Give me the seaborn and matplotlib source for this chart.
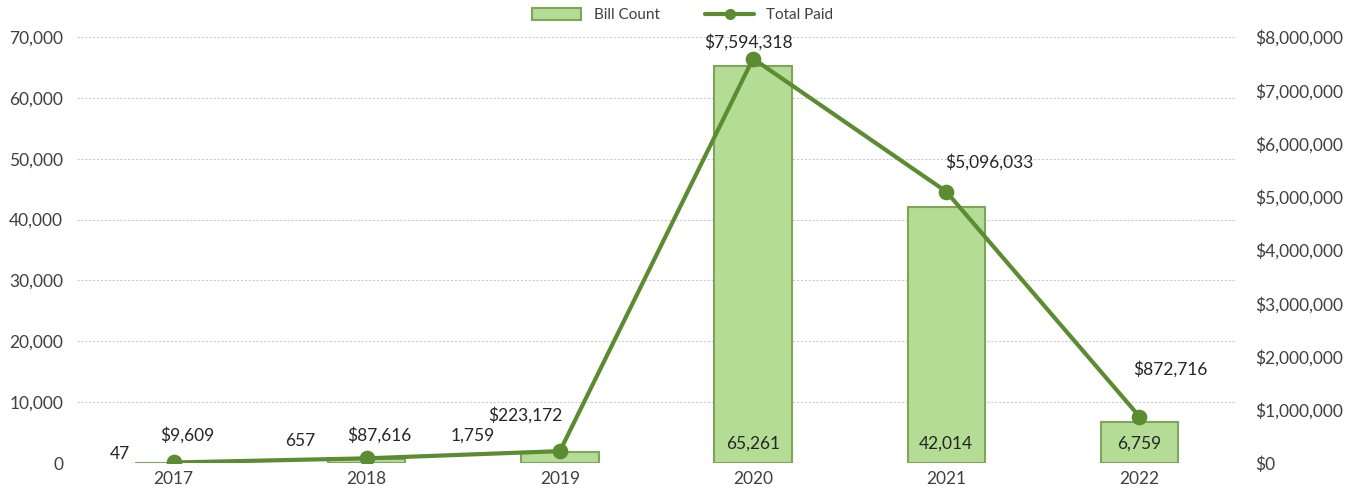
import numpy as np
import pandas as pd
import matplotlib
matplotlib.use('Agg')
import matplotlib.pyplot as plt
import seaborn as sns
from matplotlib.lines import Line2D
from matplotlib.patches import Patch
from matplotlib.ticker import FuncFormatter, MultipleLocator

# Datos
years = ['2017', '2018', '2019', '2020', '2021', '2022']
bill_count = [47, 657, 1759, 65261, 42014, 6759]
total_paid = [9609, 87616, 223172, 7594318, 5096033, 872716]

# desplazamiento de etiquetas (puntos)
count_offsets = [(-39, 6), (-48, 13), (-63, 12), (0, 14), (0, 14), (0, 14)]
paid_offsets = [(10, 20), (9, 17), (-25, 26), (-3, 12), (31, 21), (22, 34)]

df = pd.DataFrame({'Year': years, 'Bill Count': bill_count, 'Total Paid': total_paid})

bar_color = '#b4dc94'
bar_edge = '#7ea55c'
line_color = '#5b8c31'
txt_color = '#262626'
fs = 12.5

sns.set_theme(style='white')
plt.rcParams['font.family'] = ['Lato', 'DejaVu Sans']

fig = plt.figure(figsize=(13.59, 4.99), dpi=100)
ax = fig.add_axes([77 / 1359, 36 / 499, 1159 / 1359, 426 / 499])

sns.barplot(data=df, x='Year', y='Bill Count', color=bar_color, edgecolor=bar_edge,
            linewidth=1.5, width=0.40, saturation=1, ax=ax, zorder=2)

ax.set_ylim(0, 70000)
ax.yaxis.set_major_locator(MultipleLocator(10000))
ax.yaxis.set_major_formatter(FuncFormatter(lambda v, p: f'{v:,.0f}'))
ax.grid(axis='y', color='#cccccc', linestyle=(0, (2, 1.5)), linewidth=0.8, zorder=0)
ax.set_axisbelow(True)
ax.set_xlabel('')
ax.set_ylabel('')
ax.tick_params(axis='both', labelsize=fs, colors='#404040', length=0, pad=10)
ax.tick_params(axis='x', pad=6)
for s in ax.spines.values():
    s.set_visible(False)

ax2 = ax.twinx()
sns.pointplot(data=df, x='Year', y='Total Paid', color=line_color, markers='o',
              markersize=9, linewidth=3, ax=ax2)
ax2.set_ylim(0, 8000000)
ax2.yaxis.set_major_locator(MultipleLocator(1000000))
ax2.yaxis.set_major_formatter(FuncFormatter(lambda v, p: f'${v:,.0f}'))
ax2.set_ylabel('')
ax2.tick_params(axis='y', labelsize=fs, colors='#404040', length=0, pad=14)
for s in ax2.spines.values():
    s.set_visible(False)
ax.set_xlim(-0.5, len(years) - 0.5)

# Etiquetas
for i, (v, off) in enumerate(zip(bill_count, count_offsets)):
    ax.annotate(f'{v:,}', (i, v if i < 3 else 0), xytext=off, textcoords='offset points',
                ha='center', va='center', fontsize=fs, color=txt_color)
for i, (v, off) in enumerate(zip(total_paid, paid_offsets)):
    ax2.annotate(f'${v:,}', (i, v), xytext=off, textcoords='offset points',
                 ha='center', va='center', fontsize=fs, color=txt_color)

handles = [Patch(facecolor=bar_color, edgecolor=bar_edge, linewidth=1.5, label='Bill Count'),
           Line2D([0], [0], color=line_color, lw=3, marker='o', markersize=7, label='Total Paid')]
fig.legend(handles=handles, loc='center', bbox_to_anchor=(683 / 1359, 1 - 15 / 499), ncol=2,
           frameon=False, fontsize=11, handlelength=3.2, handleheight=0.8, columnspacing=3,
           labelcolor='#404040')

plt.savefig('out.png', dpi=100)
plt.close()
